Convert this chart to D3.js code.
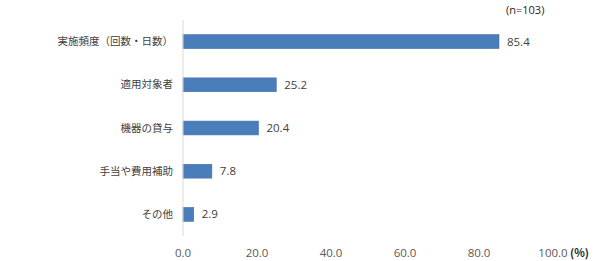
<!DOCTYPE html>
<html><head><meta charset="utf-8">
<script src="https://cdn.jsdelivr.net/npm/d3@7"></script>
<style>body{margin:0;background:#fff}svg{display:block}</style>
</head><body>
<svg id="c" width="600" height="261"></svg>
<script>
const categories = ["実施頻度（回数・日数）","適用対象者","機器の貸与","手当や費用補助","その他"];
const values = [85.4, 25.2, 20.4, 7.8, 2.9];
const xTicks = [0, 20, 40, 60, 80, 100];
const sampleNote = "(n=103)";
const unitNote = "(%)";

const svg = d3.select("#c");
const font = "'Noto Sans CJK JP','Noto Sans',sans-serif";
const numFont = "'Open Sans','Noto Sans',sans-serif";
const x = d3.scaleLinear().domain([0, 100]).range([183, 553]);
const y = d3.scaleBand().domain(categories).range([20, 236]).paddingInner(0.68).paddingOuter(0.34);

svg.append("g").selectAll("rect").data(values).join("rect")
  .attr("x", x(0)).attr("y", (d,i)=>y(categories[i]))
  .attr("width", d=>x(d)-x(0)).attr("height", y.bandwidth())
  .attr("fill", "#4a7ebb").attr("stroke","#3f6fa8").attr("stroke-width",0.6);

svg.append("line").attr("x1", x(0)).attr("x2", x(0)).attr("y1", 20).attr("y2", 236)
  .attr("stroke", "#d9d9d9").attr("stroke-width", 1);

svg.append("g").selectAll("text").data(categories).join("text")
  .attr("x", x(0) - 10).attr("y", d=>y(d)+y.bandwidth()/2).attr("dy","0.35em")
  .attr("text-anchor","end").attr("font-family",font).attr("font-size",10.5).attr("fill","#404040")
  .text(d=>d);

svg.append("g").selectAll("text").data(values).join("text")
  .attr("x", d=>x(d)+8).attr("y", (d,i)=>y(categories[i])+y.bandwidth()/2).attr("dy","0.35em")
  .attr("font-family",numFont).attr("font-size",11.5).attr("fill","#404040")
  .text(d=>d.toFixed(1));

svg.append("g").selectAll("text").data(xTicks).join("text")
  .attr("x", d=>x(d)).attr("y", 253).attr("dy","0.35em").attr("text-anchor","middle")
  .attr("font-family",numFont).attr("font-size",11.5).attr("fill","#595959")
  .text(d=>d.toFixed(1));

svg.append("text").attr("x", 570).attr("y", 253).attr("dy","0.35em")
  .attr("font-family",font).attr("font-size",11).attr("font-weight","bold").attr("fill","#262626").text(unitNote);
svg.append("text").attr("x", 506).attr("y", 10).attr("dy","0.35em")
  .attr("font-family",numFont).attr("font-size",11).attr("fill","#262626").text(sampleNote);
</script>
</body></html>
